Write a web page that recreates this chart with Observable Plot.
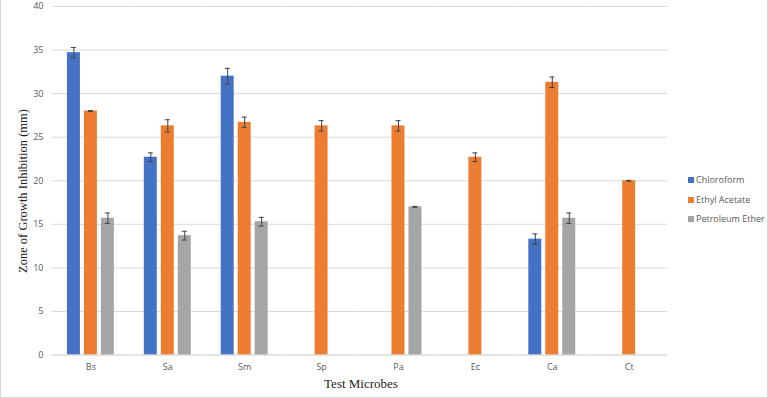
<!DOCTYPE html>
<html>
<head>
<meta charset="utf-8">
<script src="https://cdn.jsdelivr.net/npm/d3@7"></script>
<script src="https://cdn.jsdelivr.net/npm/@observablehq/plot@0.6"></script>
<style>
  html, body { margin: 0; padding: 0; background: #fff; }
  #wrap { position: relative; width: 768px; height: 398px; box-sizing: border-box; border: 1px solid #d6d6d6; border-top: none; overflow: hidden; font-family: "Open Sans", "DejaVu Sans", sans-serif; }
  #chart { position: absolute; left: -1px; top: 0px; }
  .ylab { position: absolute; left: 22px; top: 191px; transform: translate(-50%, -50%) rotate(-90deg); font-family: "Liberation Serif", serif; font-size: 12.5px; color: #222; white-space: nowrap; }
  .xlab { position: absolute; left: 360px; top: 384px; transform: translate(-50%, -50%); font-family: "Liberation Serif", serif; font-size: 13px; color: #222; white-space: nowrap; }
  .legend { position: absolute; left: 687px; top: 173px; font-size: 9px; color: #595959; }
  .legend div { height: 19.5px; line-height: 14px; white-space: nowrap; }
  .legend span.sw { display: inline-block; width: 6px; height: 6px; margin-right: 2px; vertical-align: 0px; }
</style>
</head>
<body>
<div id="wrap">
  <div id="chart"></div>
  <div class="ylab">Zone of Growth Inhibition (mm)</div>
  <div class="xlab">Test Microbes</div>
  <div class="legend" id="legend"></div>
</div>
<script>
const categories = ["Bs", "Sa", "Sm", "Sp", "Pa", "Ec", "Ca", "Ct"];
const series = ["Chloroform", "Ethyl Acetate", "Petroleum Ether"];
const colors = ["#4472C4", "#ED7D31", "#A5A5A5"];
const yTicks = [0, 5, 10, 15, 20, 25, 30, 35, 40];

const chloroform     = [34.7, 22.7, 32.0, null, null, null, 13.3, null];
const ethylAcetate   = [28.0, 26.3, 26.7, 26.3, 26.3, 22.7, 31.3, 20.0];
const petroleumEther = [15.7, 13.7, 15.3, null, 17.0, null, 15.7, null];

const chloroformErr     = [0.6, 0.5, 0.9, null, null, null, 0.6, null];
const ethylAcetateErr   = [0.05, 0.7, 0.6, 0.6, 0.6, 0.5, 0.6, 0.05];
const petroleumEtherErr = [0.6, 0.5, 0.5, null, 0.05, null, 0.6, null];

const valueSets = [chloroform, ethylAcetate, petroleumEther];
const errSets = [chloroformErr, ethylAcetateErr, petroleumEtherErr];

const rows = [];
series.forEach((s, si) => {
  categories.forEach((c, ci) => {
    const v = valueSets[si][ci];
    if (v != null) rows.push({category: c, series: s, value: v, err: errSets[si][ci]});
  });
});

const chart = Plot.plot({
  width: 768,
  height: 398,
  marginTop: 6,
  marginBottom: 43,
  marginLeft: 52,
  marginRight: 100,
  style: {fontFamily: "'Open Sans', 'DejaVu Sans', sans-serif", fontSize: "9px", color: "#595959", background: "transparent", overflow: "visible"},
  fx: {domain: categories, padding: 0, label: null, tickSize: 0, tickPadding: 9},
  x: {domain: series, paddingInner: 0.24, paddingOuter: 0.83, axis: null},
  y: {domain: [0, 40], ticks: yTicks, tickSize: 0, tickPadding: 9, label: null},
  color: {domain: series, range: colors},
  marks: [
    Plot.ruleY(yTicks.filter(t => t > 0), {stroke: "#d9d9d9", strokeWidth: 1}),
    Plot.barY(rows, {fx: "category", x: "series", y: "value", fill: "series"}),
    Plot.ruleX(rows, {fx: "category", x: "series", y1: d => d.value - d.err, y2: d => d.value + d.err, stroke: "#404040", strokeWidth: 1}),
    Plot.tickY(rows, {fx: "category", x: "series", y: d => d.value - d.err, stroke: "#404040", strokeWidth: 1, insetLeft: 4, insetRight: 4}),
    Plot.tickY(rows, {fx: "category", x: "series", y: d => d.value + d.err, stroke: "#404040", strokeWidth: 1, insetLeft: 4, insetRight: 4}),
    Plot.ruleY([0], {stroke: "#c8c8c8", strokeWidth: 1})
  ]
});
document.getElementById("chart").appendChild(chart);

const legend = document.getElementById("legend");
series.forEach((s, i) => {
  const row = document.createElement("div");
  const sw = document.createElement("span");
  sw.className = "sw";
  sw.style.background = colors[i];
  row.appendChild(sw);
  row.appendChild(document.createTextNode(s));
  legend.appendChild(row);
});
</script>
</body>
</html>
